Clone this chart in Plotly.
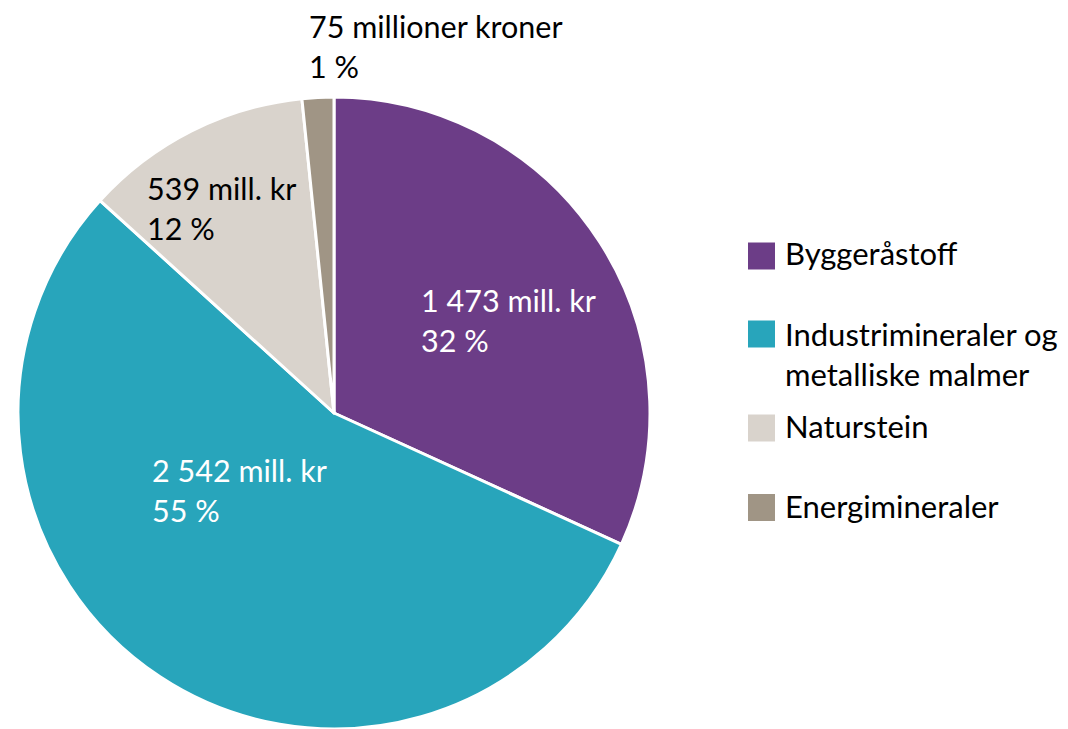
import plotly.graph_objects as go

categories = ["Byggeråstoff", "Industrimineraler og<br>metalliske malmer", "Naturstein", "Energimineraler"]
values_mill = [1473, 2542, 539, 75]
percent_labels = ["32 %", "55 %", "12 %", "1 %"]
amount_labels = ["1 473 mill. kr", "2 542 mill. kr", "539 mill. kr", "75 millioner kroner"]
colors = ["#6C3D87", "#28A5BB", "#D9D3CC", "#A09585"]
label_colors = ["white", "white", "black", "black"]

# figure size (page body has 8px margin in the 1068x729 window)
W, H = 1060, 721
FONT = "Lato"


def px(x):
    return x / W


def py(y):
    return 1 - y / H


fig = go.Figure()
fig.add_trace(go.Pie(
    values=values_mill,
    labels=[c.replace("<br>", " ") for c in categories],
    sort=False,
    direction="clockwise",
    rotation=0,
    marker=dict(colors=colors, line=dict(color="white", width=3)),
    textinfo="none",
    hoverinfo="label+value+percent",
    showlegend=False,
    domain=dict(x=[px(10), px(642)], y=[0, py(89)]),
))

# slice labels
label_pos = [(411, 312), (142, 482), (137, 200), (299, 38)]
for amt, pct, lc, (lx, ly) in zip(amount_labels, percent_labels, label_colors, label_pos):
    fig.add_annotation(
        x=px(lx), y=py(ly), xref="paper", yref="paper",
        xanchor="left", yanchor="middle", align="left", showarrow=False,
        text=f"{amt}<br>{pct}",
        font=dict(family=FONT, size=30.5, color=lc),
    )

# legend (swatch + label)
swatch_centers = [248, 326, 420, 499.5]
text_centers = [245, 346, 418, 497.5]
for cat, col, sc, tc in zip(categories, colors, swatch_centers, text_centers):
    fig.add_shape(
        type="rect", xref="paper", yref="paper",
        x0=px(740), x1=px(767), y0=py(sc + 13.5), y1=py(sc - 13.5),
        fillcolor=col, line=dict(width=0),
    )
    fig.add_annotation(
        x=px(775), y=py(tc), xref="paper", yref="paper",
        xanchor="left", yanchor="middle", align="left", showarrow=False,
        text=cat, font=dict(family=FONT, size=31, color="black"),
    )

fig.update_layout(
    width=W, height=H,
    margin=dict(l=0, r=0, t=0, b=0),
    paper_bgcolor="white", plot_bgcolor="white",
    xaxis=dict(visible=False), yaxis=dict(visible=False),
    font=dict(family=FONT, size=31, color="black"),
    showlegend=False,
)

fig.write_html("out.html")
